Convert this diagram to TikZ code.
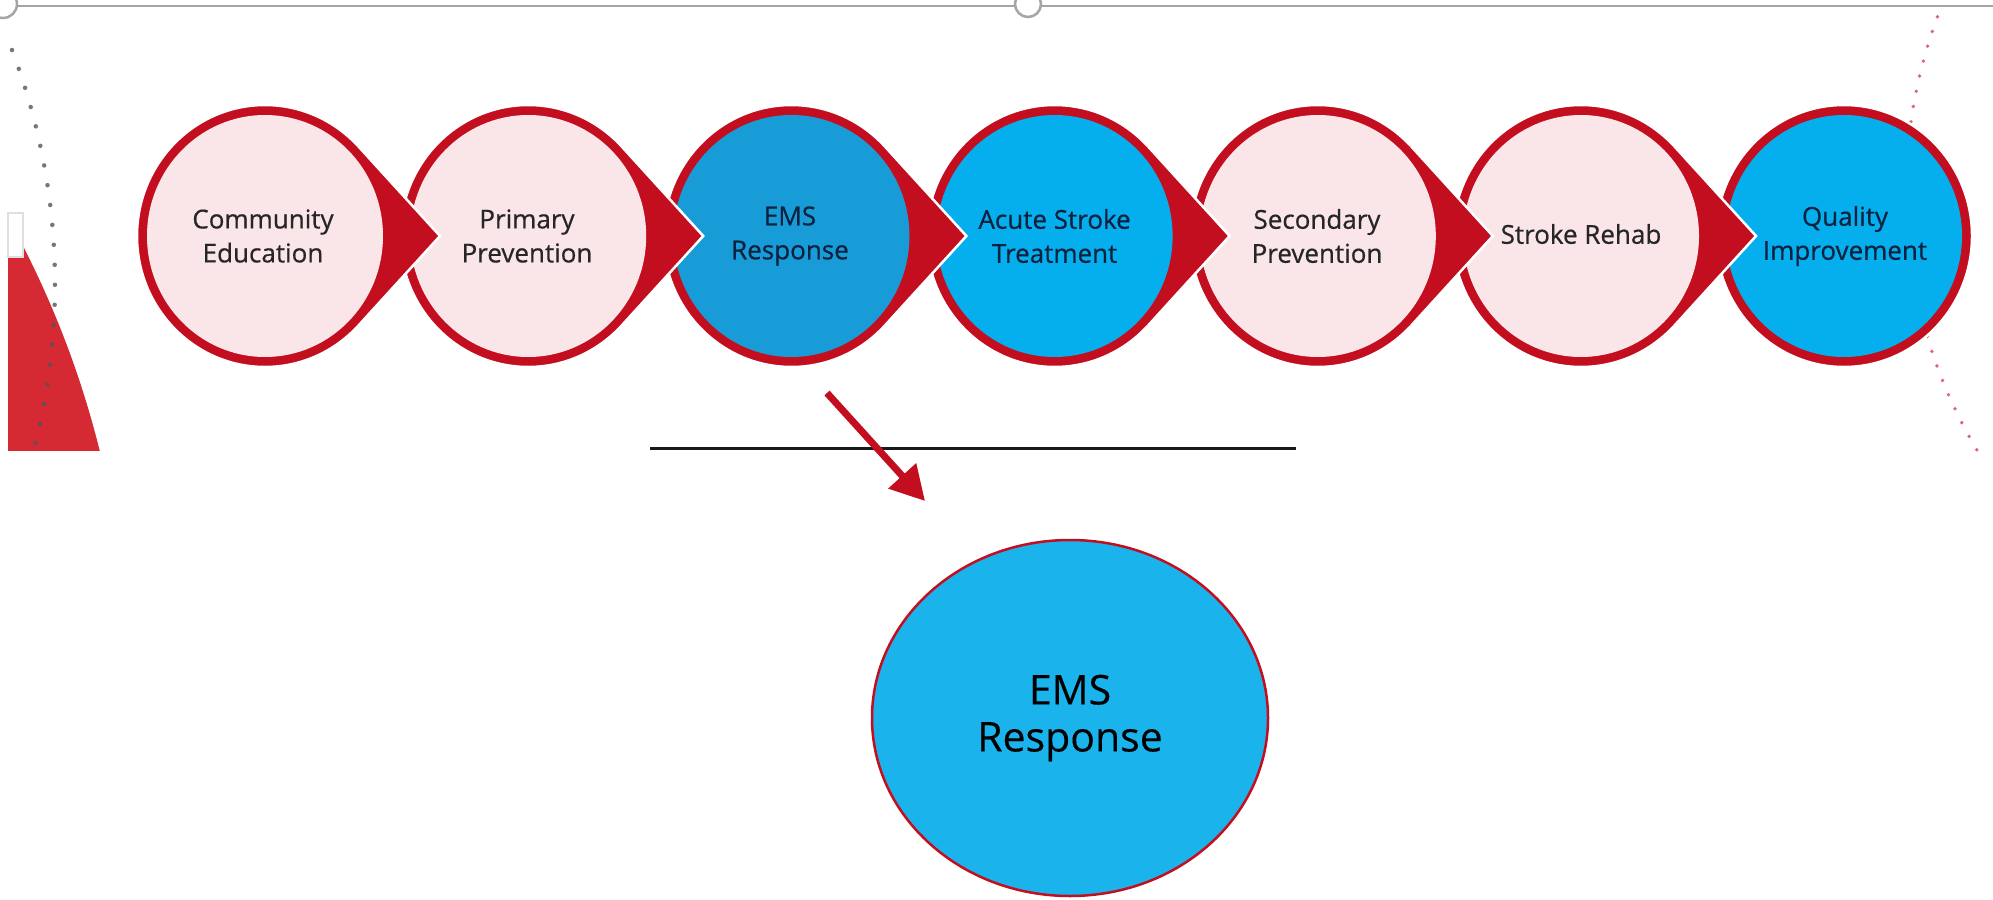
\documentclass[tikz,border=0pt]{standalone}
\usepackage{fontspec}
\setmainfont{Open Sans}
\newfontfamily\stepfont{Open Sans}[FakeBold=0.6]
\newfontfamily\bigfont{Open Sans}[FakeBold=0.3]
\usetikzlibrary{arrows.meta,shapes.geometric}
\definecolor{cred}{HTML}{C20E1F}
\definecolor{cpink}{HTML}{FAE6E9}
\definecolor{cblue}{HTML}{05AEEC}
\definecolor{cblued}{HTML}{189CD8}
\definecolor{cbig}{HTML}{1BB3EC}
\definecolor{slidered}{HTML}{D52A33}
\definecolor{ctxt}{HTML}{262626}
\definecolor{ctxtb}{HTML}{0E2240}
\definecolor{dotgray}{HTML}{555555}
\definecolor{dotpink}{HTML}{DE6676}
\definecolor{framegray}{HTML}{A5A5A5}
\newcommand\mytear[2]{%
  \begin{scope}[shift={(#1,236)}]
    \path[fill=cred, draw=white, line width=2.5pt] (0,0) ellipse[x radius=128, y radius=131];
    \fill[cred] (0,0) -- (93.2,89.8) -- (175,0) -- (93.2,-89.8) -- cycle;
    \draw[white, line width=2.5pt, line join=miter] (93.2,89.8) -- (175,0) -- (93.2,-89.8);
    \fill[#2] (0,0) ellipse[x radius=118, y radius=121];
  \end{scope}}
\newcommand\myround[2]{%
  \begin{scope}[shift={(#1,236)}]
    \path[fill=cred, draw=white, line width=2.5pt] (0,0) ellipse[x radius=128, y radius=131];
    \fill[#2] (0,0) ellipse[x radius=118, y radius=121];
  \end{scope}}
\begin{document}
\begin{tikzpicture}[x=1pt,y=-1pt,
  steptext/.style={align=center, font=\stepfont\fontsize{26}{34}\selectfont, inner sep=0pt, text=ctxt},
  steptextb/.style={steptext, text=ctxtb},
  handle/.style={draw=framegray, fill=white, line width=2.5pt},
  dotline/.style={line width=4.5pt, line cap=round, dash pattern=on 0pt off 20pt},
  pinkdots/.style={dotpink, line width=3.8pt, line cap=round, dash pattern=on 0pt off 15.5pt}]
\useasboundingbox (0,0) rectangle (1993,899);
\fill[white] (0,0) rectangle (1993,899);

% left slide fragment
\begin{scope}
  \clip (8,0) rectangle (300,450);
  \fill[slidered] (-832,683) circle[radius=960];
\end{scope}
\draw[white!75!gray, fill=white, line width=1.5pt] (8,213) rectangle (23,257);
\draw[dotline, dotgray, opacity=.8] (-603,284) ++(-20.83:658)
  arc[start angle=-20.83, end angle=14.16, radius=658];

% right dotted arc
\draw[pinkdots] (2411,192) ++(149.3:505) arc[start angle=149.3, end angle=201.6, radius=505];

% top frame line and handles
\draw[framegray, line width=2.5pt] (14,6) -- (1993,6);
\node[handle, circle, minimum size=26pt, inner sep=0pt] (h1) at (1028,4) {};
\node[handle, circle, minimum size=28pt, inner sep=0pt] (h0) at (3,4) {};

% chain of steps (right to left so tips overlap the next circle)
\myround{1844}{cblue}
\mytear{1581}{cpink}
\mytear{1317.8}{cpink}
\mytear{1054.6}{cblue}
\mytear{791.4}{cblued}
\mytear{528.2}{cpink}
\mytear{265}{cpink}

\node[steptext] (s1) at (263,236) {Community\\Education};
\node[steptext] (s2) at (527,236) {Primary\\Prevention};
\node[steptextb] (s3) at (790,236) {EMS\\Response};
\node[steptextb] (s4) at (1054.6,236) {Acute Stroke\\Treatment};
\node[steptext] (s5) at (1317,236) {Secondary\\Prevention};
\node[steptext] (s6) at (1581,234) {Stroke Rehab};
\node[steptextb] (s7) at (1845,236) {Quality\\Improvement};

% black rule
\coordinate (l1) at (650,448);
\coordinate (l2) at (1296,448);
\draw[black!90, line width=3pt] (l1) -- (l2);

% arrow
\coordinate (a1) at (827,393);
\coordinate (a2) at (925,501);
\draw[cred, line width=7pt, -{Triangle[length=34pt, width=36pt]}] (a1) -- (a2);

% big ellipse
\node[ellipse, draw=cred, fill=cbig, line width=2.5pt, minimum width=396pt, minimum height=356pt,
  inner sep=0pt, align=center, font=\bigfont\fontsize{41}{47}\selectfont, text=black] (big) at (1070,718) {EMS\\Response};
\end{tikzpicture}
\end{document}
